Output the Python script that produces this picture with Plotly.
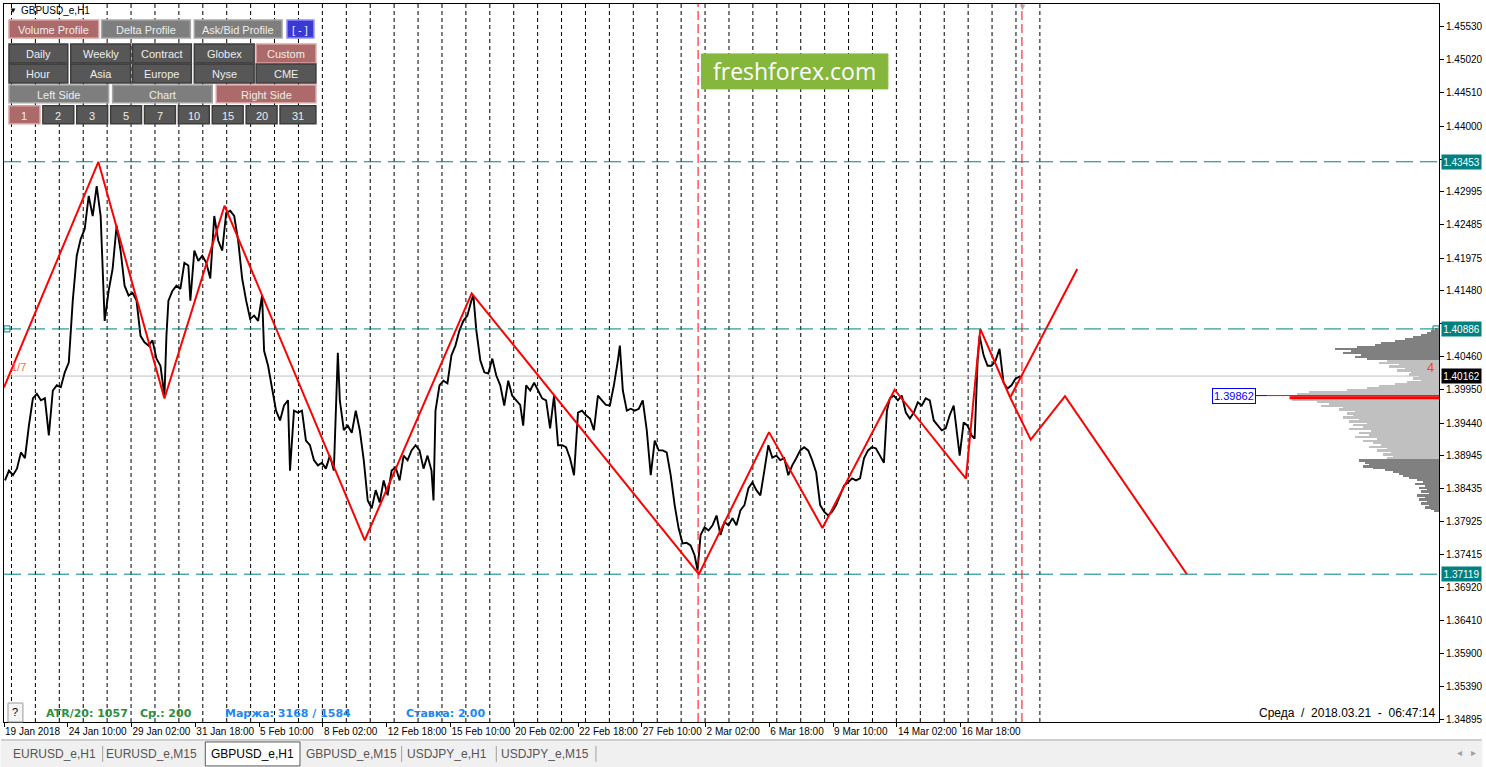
import plotly.graph_objects as go

# ---- GBPUSD_e H1, values ----
# bar number counted from the first bar on screen, close price
bars = [1, 5, 9, 13, 17, 21, 25, 29, 33, 37,
        41, 45, 49, 53, 57, 61, 65, 69, 73, 77,
        81, 85, 89, 93, 97, 101, 105, 109, 113, 117,
        121, 125, 129, 133, 137, 141, 145, 149, 153, 157,
        161, 163, 165, 169, 173, 177, 181, 185, 187, 191,
        195, 199, 203, 207, 211, 215, 219, 223, 227, 231,
        235, 239, 243, 247, 251, 255, 259, 261, 265, 269,
        273, 277, 281, 285, 287, 291, 295, 299, 303, 307,
        311, 315, 319, 323, 327, 331, 335, 337, 341, 345,
        349, 353, 357, 361, 365, 369, 373, 377, 381, 385,
        389, 393, 397, 401, 405, 409, 413, 417, 421, 425,
        429, 431, 433, 437, 441, 445, 449, 453, 457, 461,
        465, 469, 471, 474, 478, 482, 486, 490, 494, 498,
        502, 506, 510, 514, 518, 521, 524, 528, 532, 536,
        540, 544, 548, 552, 556, 560, 564, 568, 572, 576,
        580, 584, 588, 592, 596, 600, 604, 608, 612, 616,
        618, 621, 625, 629, 633, 637, 641, 645, 649, 653,
        657, 661, 665, 669, 673, 677, 681, 685, 689, 693,
        696, 699, 703, 707, 711, 715, 719, 723, 727, 731,
        735, 739, 743, 747, 751, 755, 759, 763, 767, 771,
        775, 779, 783, 787, 791, 795, 799, 803, 807, 811,
        815, 819, 823, 827, 831, 835, 839, 843, 847, 851,
        855, 859, 863, 867, 871, 875, 879, 883, 886, 889,
        893, 897, 901, 905, 909, 913, 917, 921, 925, 929,
        933, 937, 941, 945, 949, 953, 957, 959, 963, 967,
        971, 974, 977, 979, 983, 987, 991, 995, 999, 1003,
        1007, 1011, 1015, 1019, 1020]
close = [1.3856, 1.3871, 1.3864, 1.3874, 1.3899, 1.3890, 1.3940, 1.3982, 1.3989, 1.3979,
         1.3982, 1.3925, 1.3994, 1.4002, 1.3999, 1.4022, 1.4037, 1.4132, 1.4201, 1.4227,
         1.4242, 1.4293, 1.4262, 1.4308, 1.4262, 1.4101, 1.4147, 1.4181, 1.4247, 1.4209,
         1.4155, 1.4140, 1.4144, 1.4132, 1.4078, 1.4068, 1.4063, 1.4071, 1.4043, 1.4032,
         1.3986, 1.4078, 1.4132, 1.4147, 1.4155, 1.4150, 1.4190, 1.4186, 1.4132, 1.4209,
         1.4193, 1.4201, 1.4190, 1.4166, 1.4262, 1.4224, 1.4209, 1.4267, 1.4270, 1.4262,
         1.4224, 1.4166, 1.4132, 1.4104, 1.4109, 1.4101, 1.4140, 1.4055, 1.4032, 1.3994,
         1.3963, 1.3948, 1.3971, 1.3979, 1.3871, 1.3963, 1.3960, 1.3963, 1.3917, 1.3910,
         1.3887, 1.3879, 1.3883, 1.3874, 1.3894, 1.3871, 1.4052, 1.3979, 1.3933, 1.3940,
         1.3929, 1.3963, 1.3933, 1.3887, 1.3825, 1.3813, 1.3841, 1.3822, 1.3856, 1.3833,
         1.3871, 1.3876, 1.3856, 1.3894, 1.3887, 1.3902, 1.3910, 1.3902, 1.3874, 1.3894,
         1.3871, 1.3825, 1.3963, 1.4002, 1.4009, 1.4005, 1.4048, 1.4063, 1.4086, 1.4101,
         1.4109, 1.4132, 1.4140, 1.4086, 1.4040, 1.4022, 1.4020, 1.4043, 1.4017, 1.4002,
         1.3971, 1.4009, 1.3986, 1.3979, 1.3972, 1.3940, 1.4002, 1.3994, 1.4006, 1.3994,
         1.3982, 1.3979, 1.3936, 1.3986, 1.3910, 1.3910, 1.3907, 1.3890, 1.3864, 1.3960,
         1.3963, 1.3956, 1.3951, 1.3933, 1.3986, 1.3979, 1.3972, 1.3971, 1.4002, 1.4040,
         1.4063, 1.3994, 1.3963, 1.3966, 1.3963, 1.3966, 1.3979, 1.3933, 1.3864, 1.3917,
         1.3902, 1.3902, 1.3899, 1.3864, 1.3818, 1.3782, 1.3759, 1.3760, 1.3756, 1.3741,
         1.3718, 1.3772, 1.3784, 1.3779, 1.3787, 1.3802, 1.3772, 1.3792, 1.3787, 1.3798,
         1.3787, 1.3810, 1.3818, 1.3844, 1.3853, 1.3841, 1.3833, 1.3871, 1.3910, 1.3891,
         1.3894, 1.3887, 1.3890, 1.3864, 1.3879, 1.3890, 1.3902, 1.3907, 1.3902, 1.3887,
         1.3868, 1.3818, 1.3808, 1.3802, 1.3808, 1.3818, 1.3833, 1.3848, 1.3853, 1.3859,
         1.3856, 1.3859, 1.3890, 1.3902, 1.3907, 1.3905, 1.3894, 1.3883, 1.3963, 1.3982,
         1.3986, 1.3979, 1.3986, 1.3960, 1.3951, 1.3960, 1.3976, 1.3971, 1.3982, 1.3979,
         1.3948, 1.3940, 1.3933, 1.3936, 1.3956, 1.3971, 1.3925, 1.3894, 1.3945, 1.3940,
         1.3925, 1.3920, 1.4040, 1.4078, 1.4048, 1.4032, 1.4032, 1.4040, 1.4058, 1.4006,
         1.3997, 1.4002, 1.4012, 1.4015, 1.4016]

# zigzag pivots and the two forecast legs
zz_bars = [0, 94.7, 161, 221.3, 362, 469.3, 697.3, 767.7, 821.3, 893.7, 965.3, 979.7, 1009.7]
zz_price = [1.39987, 1.43453, 1.39818, 1.42778, 1.37640, 1.41433, 1.37119,
            1.39301, 1.37829, 1.39952, 1.38587, 1.40886, 1.39833]
up_bars = [1009.7, 1077]
up_price = [1.39833, 1.41807]
down_bars = [1009.7, 1030.3, 1064.7, 1187]
down_price = [1.39833, 1.39185, 1.39853, 1.37119]

levels = [1.43453, 1.40886, 1.37119]
bid = 1.40162
poc_label = 1.39862
marker_bars = [696.5, 1021.5]  # red dashed verticals

# volume profile, rows of 0.0003 from 1.4088 down
vp_top, vp_step = 1.4088, 0.0003
vp_volume = [4, 8, 12, 18, 26, 34, 44, 58, 64, 82,
             104, 88, 96, 78, 84, 72, 52, 60, 40, 50,
             34, 42, 28, 30, 20, 26, 18, 32, 44, 60,
             72, 92, 130, 142, 148, 150, 148, 122, 110, 118,
             96, 100, 84, 92, 86, 96, 80, 90, 72, 86,
             76, 90, 68, 80, 70, 84, 62, 76, 66, 58,
             70, 52, 62, 48, 56, 46, 52, 80, 74, 70,
             76, 66, 54, 46, 40, 36, 30, 22, 16, 24,
             14, 20, 12, 18, 10, 22, 14, 20, 12, 18,
             10, 14, 8, 5]
va_high, va_low = 1.4042, 1.3888

date_ticks = ["19 Jan 2018", "24 Jan 10:00", "29 Jan 02:00", "31 Jan 18:00", "5 Feb 10:00",
              "8 Feb 02:00", "12 Feb 18:00", "15 Feb 10:00", "20 Feb 02:00", "22 Feb 18:00",
              "27 Feb 10:00", "2 Mar 02:00", "6 Mar 18:00", "9 Mar 10:00", "14 Mar 02:00",
              "16 Mar 18:00"]
price_ticks = [1.45530, 1.45020, 1.44510, 1.44000, 1.43490, 1.42995, 1.42485, 1.41975,
               1.41480, 1.40970, 1.40460, 1.39950, 1.39440, 1.38945, 1.38435, 1.37925,
               1.37415, 1.36920, 1.36410, 1.35900, 1.35390, 1.34895]
hidden_ticks = [1.43490, 1.40970]  # sit under the level boxes

# ---- page geometry ----
W, H = 1486, 767
L, R, T, B = 3, 43, 3, 45
PW, PH = W - L - R, H - T - B
FONT = "Liberation Sans"
TEAL = "#008080"


def px(X):
    return (X - L) / PW


def py(Y):
    return (H - B - Y) / PH


vp_price = [vp_top - vp_step * i for i in range(len(vp_volume))]
vp_colors = ["#C0C0C0" if va_low <= p <= va_high else "#808080" for p in vp_price]
poc_i = vp_volume.index(max(vp_volume))

fig = go.Figure()

fig.add_trace(go.Bar(x=vp_volume, y=vp_price, orientation="h", xaxis="x2",
                     width=vp_step, marker=dict(color=vp_colors, line=dict(width=0))))
fig.add_trace(go.Scatter(x=[0, max(vp_volume)], y=[vp_price[poc_i]] * 2, xaxis="x2",
                         mode="lines", line=dict(color="#FF0000", width=3)))
fig.add_trace(go.Scatter(x=[0, 172], y=[poc_label] * 2, xaxis="x2",
                         mode="lines", line=dict(color="#FF0000", width=1)))
fig.add_trace(go.Scatter(x=[172, 184], y=[poc_label] * 2, xaxis="x2",
                         mode="lines", line=dict(color="#0000FF", width=1)))

fig.add_trace(go.Scatter(x=bars, y=close, mode="lines",
                         line=dict(color="black", width=1.9)))
fig.add_trace(go.Scatter(x=zz_bars, y=zz_price, mode="lines",
                         line=dict(color="#FF0000", width=2)))
fig.add_trace(go.Scatter(x=up_bars, y=up_price, mode="lines",
                         line=dict(color="#FF0000", width=2)))
fig.add_trace(go.Scatter(x=down_bars, y=down_price, mode="lines",
                         line=dict(color="#FF0000", width=2)))
fig.add_trace(go.Scatter(x=[3, 1437], y=[levels[1]] * 2, mode="markers",
                         marker=dict(symbol="square-open", size=6, color=TEAL)))

shapes = []
# day separators (one per 24 H1 bars)
for b in [7.5 + 24 * d for d in range(44)]:
    shapes.append(dict(type="line", xref="x", yref="paper", x0=b, x1=b, y0=0, y1=1,
                       line=dict(color="black", width=1, dash="4px,3px"), layer="below"))
for lvl in levels:
    shapes.append(dict(type="line", xref="paper", yref="y", x0=0, x1=1, y0=lvl, y1=lvl,
                       line=dict(color=TEAL, width=1, dash="17px,7px")))
shapes.append(dict(type="line", xref="paper", yref="y", x0=0, x1=1, y0=bid, y1=bid,
                   line=dict(color="#C0C0C0", width=1), layer="below"))
for b in marker_bars:
    shapes.append(dict(type="line", xref="x", yref="paper", x0=b, x1=b, y0=0, y1=1,
                       line=dict(color="#FF0000", width=1, dash="9px,4px")))

ann = []


def text(x, y, s, size=11, color="black", anchor="left", bold=False, family=FONT):
    if bold:
        s = "<b>" + s + "</b>"
    ann.append(dict(x=px(x), y=py(y), xref="paper", yref="paper", text=s, showarrow=False,
                    xanchor=anchor, yanchor="middle", borderpad=0,
                    font=dict(family=family, size=size, color=color)))


def rect(x0, y0, x1, y1, fill, line, lw=1):
    shapes.append(dict(type="rect", xref="paper", yref="paper",
                       x0=px(x0), x1=px(x1), y0=py(y1), y1=py(y0),
                       fillcolor=fill, line=dict(color=line, width=lw), layer="above"))


def button(label, x0, y0, x1, y1, style):
    fill, edge = {"red": ("#AD6A6A", "#D9A2A2"), "mid": ("#7E7E7E", "#A6A6A6"),
                  "dark": ("#575757", "#3C3C3C"), "blue": ("#3A3AD2", "#8C8CFF")}[style]
    rect(x0, y0, x1, y1, fill, edge, 1.5)
    text((x0 + x1) / 2, (y0 + y1) / 2 + 1, label, 11, "#EDEDED", "center")


# control panel
row1 = [("Volume Profile", 8, 98, "red"), ("Delta Profile", 101, 190, "mid"),
        ("Ask/Bid Profile", 194, 282, "mid"), ("[ - ]", 287, 314, "blue")]
for lab, a, b, s in row1:
    button(lab, a, 19, b, 37, s)
cols = [(8, 67), (70, 130), (132, 191), (194, 254), (256, 316)]
for (a, b), lab in zip(cols, ["Daily", "Weekly", "Contract", "Globex", "Custom"]):
    button(lab, a, 43, b, 62, "red" if lab == "Custom" else "dark")
for (a, b), lab in zip(cols, ["Hour", "Asia", "Europe", "Nyse", "CME"]):
    button(lab, a, 63, b, 82, "dark")
for (a, b), lab, s in zip([(8, 108), (112, 212), (216, 316)],
                          ["Left Side", "Chart", "Right Side"], ["mid", "mid", "red"]):
    button(lab, a, 84, b, 102, s)
nums = ["1", "2", "3", "5", "7", "10", "15", "20", "31"]
for i, lab in enumerate(nums):
    a = 8 + i * 34
    button(lab, a, 105, a + 31 if i < 8 else 316, 123, "red" if i == 0 else "dark")

text(7, 10, "▼", 8)
text(19, 10, "GBPUSD_e,H1", 10)

# logo
rect(703, 53, 890, 88, "#84B73B", "#84B73B")
text(796, 70, "freshforex.com", 23, "white", "center", family="Open Sans")

# chart-shift triangle
text(1025, 6, "▼", 9, "#A8A8A8", "center")

# bottom info line
rect(7, 703, 22, 722, "#F4F4F4", "#9A9A9A")
text(14.5, 712, "?", 11, "black", "center")
text(44, 713, "ATR/20: 1057", 11, "#2F8F3F", bold=True, family="DejaVu Sans")
text(138, 713, "Ср.: 200", 11, "#2F8F3F", bold=True, family="DejaVu Sans")
text(224, 713, "Маржа: 3168 / 1584", 11, "#1E88F0", bold=True, family="DejaVu Sans")
text(405, 713, "Ставка: 2.00", 11, "#1E88F0", bold=True, family="DejaVu Sans")
text(1441, 713, "Среда  /  2018.03.21  -  06:47:14", 12, "black", "right")

text(9, 367, "1/7", 11, "#FF6A3D")
text(1434, 367, "4", 13, "#FF4500", "center")

# tab strip
rect(0, 741, W, H, "#F0F0F0", "#F0F0F0")
shapes.append(dict(type="line", xref="paper", yref="paper", x0=px(0), x1=px(W),
                   y0=py(740), y1=py(740), line=dict(color="#A0A0A0", width=1)))
rect(205, 742, 300, 766, "white", "#5A5A5A")
for X in [102, 402, 497, 597]:
    shapes.append(dict(type="line", xref="paper", yref="paper", x0=px(X), x1=px(X),
                       y0=py(746), y1=py(762), line=dict(color="#A0A0A0", width=1)))
tabs = [("EURUSD_e,H1", 54), ("EURUSD_e,M15", 151), ("GBPUSD_e,H1", 252),
        ("GBPUSD_e,M15", 352), ("USDJPY_e,H1", 448), ("USDJPY_e,M15", 546)]
for lab, X in tabs:
    text(X, 754, lab, 12, "black" if lab == "GBPUSD_e,H1" else "#555555", "center")
text(1464, 753, "◂", 10, "#A0A0A0", "center")
text(1478, 753, "▸", 10, "#A0A0A0", "center")

# price boxes on the scale
for lvl, bg in [(levels[0], TEAL), (levels[1], TEAL), (levels[2], TEAL), (bid, "black")]:
    ann.append(dict(x=1, xref="paper", y=lvl, yref="y", xshift=2, xanchor="left",
                    yanchor="middle", text=f"{lvl:.5f}", showarrow=False, bgcolor=bg,
                    width=37, height=12, borderpad=1,
                    font=dict(family=FONT, size=10, color="white")))
ann.append(dict(x=184, xref="x2", y=poc_label, yref="y", xanchor="right", yanchor="middle",
                text=f"{poc_label:.5f}", showarrow=False, bgcolor="white",
                bordercolor="#0000FF", borderwidth=1, borderpad=1,
                font=dict(family=FONT, size=11, color="#0000FF")))

fig.update_layout(
    width=W, height=H, margin=dict(l=L, r=R, t=T, b=B),
    paper_bgcolor="white", plot_bgcolor="white", showlegend=False, hovermode=False,
    shapes=shapes, annotations=ann, bargap=0,
    font=dict(family=FONT, size=10, color="black"),
    xaxis=dict(range=[0, PW], showgrid=False, zeroline=False,
               tickvals=[64 * i for i in range(len(date_ticks))], ticktext=date_ticks,
               ticks="outside", ticklen=4, tickcolor="black", tickangle=0,
               ticklabelposition="outside right",
               showline=True, linecolor="black", linewidth=1, mirror=True,
               tickfont=dict(family=FONT, size=10, color="black")),
    xaxis2=dict(range=[PW, 0], overlaying="x", visible=False, anchor="y"),
    yaxis=dict(range=[1.34849, 1.45876], side="right", showgrid=False, zeroline=False,
               tickvals=price_ticks,
               ticktext=["" if v in hidden_ticks else f"{v:.5f}" for v in price_ticks],
               ticks="outside", ticklen=4, tickcolor="black",
               showline=True, linecolor="black", linewidth=1, mirror=True,
               tickfont=dict(family=FONT, size=10, color="black")),
)

fig.write_html("out.html", config={"displayModeBar": False},
               post_script="document.body.style.margin='0';document.body.style.overflow='hidden';")
